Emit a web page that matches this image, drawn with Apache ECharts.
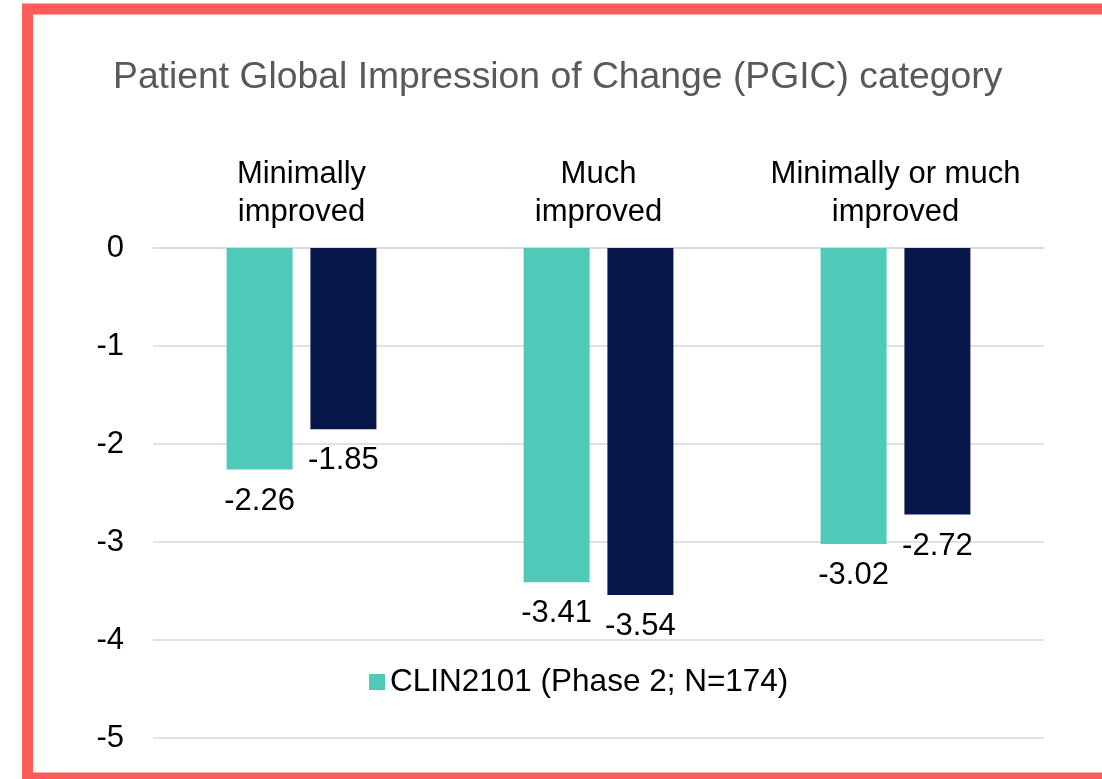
<!DOCTYPE html>
<html>
<head>
<meta charset="utf-8">
<script src="https://cdn.jsdelivr.net/npm/echarts@6/dist/echarts.min.js"></script>
<style>
  html, body { margin: 0; padding: 0; background: #fff; }
  #main { width: 1102px; height: 779px; }
</style>
</head>
<body>
<div id="main"></div>
<script>
const categories = ['Minimally\nimproved', 'Much\nimproved', 'Minimally or much\nimproved'];
const phase2Values = [-2.26, -3.41, -3.02];
const secondValues = [-1.85, -3.54, -2.72];
const seriesNames = ['CLIN2101 (Phase 2; N=174)', 'CLIN2102'];

const font = 'Liberation Sans, Arial, sans-serif';

var chart = echarts.init(document.getElementById('main'));

function labelStyle() {
    return {
        show: true,
        position: 'bottom',
        distance: 16,
        color: '#000',
        fontSize: 31,
        fontFamily: font,
        formatter: p => p.value.toFixed(2)
    };
}

chart.setOption({
    animation: false,
    backgroundColor: '#fff',
    title: {
        text: 'Patient Global Impression of Change (PGIC) category',
        left: 108,
        top: 54,
        textStyle: { color: '#595959', fontSize: 37.3, fontWeight: 'normal', fontFamily: font }
    },
    legend: {
        data: [seriesNames[0]],
        left: 364,
        top: 661,
        itemWidth: 16,
        itemHeight: 16,
        icon: 'rect',
        itemGap: 7,
        textStyle: { color: '#000', fontSize: 31.5, fontFamily: font }
    },
    grid: { left: 153, right: 58, top: 248, bottom: 41 },
    xAxis: {
        type: 'category',
        position: 'top',
        data: categories,
        axisLine: { show: true, lineStyle: { color: '#D9D9D9', width: 1.5 } },
        axisTick: { show: false },
        axisLabel: { color: '#000', fontSize: 31, fontFamily: font, lineHeight: 38, margin: 17, interval: 0 }
    },
    yAxis: {
        type: 'value',
        min: -5,
        max: 0,
        interval: 1,
        axisLine: { show: false },
        axisTick: { show: false },
        splitLine: { lineStyle: { color: '#D9D9D9', width: 1.5 } },
        axisLabel: { color: '#000', fontSize: 31, fontFamily: font, margin: 29 }
    },
    series: [
        {
            name: seriesNames[0],
            type: 'bar',
            data: phase2Values,
            barWidth: 66,
            barGap: '27%',
            itemStyle: { color: '#4FC9B8' },
            label: labelStyle()
        },
        {
            name: seriesNames[1],
            type: 'bar',
            data: secondValues,
            barWidth: 66,
            barGap: '27%',
            itemStyle: { color: '#07174A' },
            label: labelStyle()
        }
    ],
    graphic: [{
        type: 'rect',
        shape: { x: 27.5, y: 9, width: 1100, height: 769 },
        style: { fill: 'none', stroke: '#FF5A5A', lineWidth: 11 },
        silent: true
    }]
});
</script>
</body>
</html>
